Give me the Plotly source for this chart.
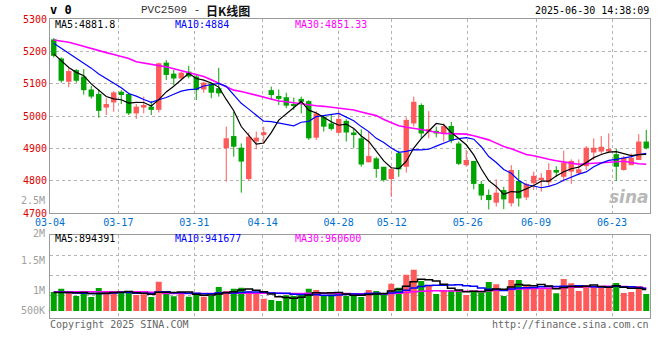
import plotly.graph_objects as go
import pandas as pd

W, H = 660, 360

# ---- daily K data (PVC2509), 2025-03-04 .. 2025-06-30, 80 trading days ----
opens = [5237, 5178, 5106, 5142, 5122, 5082, 5068, 5026, 5042, 5075,
         5068, 5008, 5026, 5029, 5019, 5165, 5131, 5116, 5137, 5122,
         5082, 5101, 5086, 4900, 4938, 4902, 4805, 4921, 4941, 5080,
         5062, 5058, 5037, 5053, 5046, 4933, 4998, 4977, 4948, 4985,
         4949, 4931, 4857, 4869, 4843, 4805, 4885, 4843, 4977, 5034,
         4952, 4954, 4944, 4969, 4915, 4848, 4861, 4790, 4756, 4732,
         4771, 4730, 4799, 4748, 4792, 4804, 4795, 4833, 4812, 4828,
         4823, 4845, 4887, 4890, 4890, 4882, 4833, 4848, 4864, 4921]
highs = [5241, 5181, 5147, 5145, 5145, 5093, 5082, 5055, 5077, 5080,
         5072, 5037, 5060, 5046, 5165, 5173, 5142, 5137, 5155, 5130,
         5106, 5103, 5149, 4967, 5013, 4915, 4949, 4952, 4967, 5091,
         5082, 5072, 5057, 5060, 5049, 5015, 5003, 5003, 5015, 4990,
         4960, 4959, 4951, 4874, 4843, 4843, 4893, 4996, 5060, 5039,
         5015, 4967, 4977, 4982, 4921, 4895, 4861, 4799, 4773, 4804,
         4781, 4848, 4833, 4794, 4828, 4823, 4854, 4845, 4893, 4866,
         4866, 4907, 4931, 4938, 4946, 4898, 4876, 4884, 4944, 4957]
lows = [5181, 5103, 5089, 5103, 5066, 5054, 4995, 5003, 5013, 5037,
        5003, 4991, 5008, 5003, 5011, 5111, 5096, 5111, 5116, 5049,
        5072, 5055, 5060, 4797, 4874, 4763, 4800, 4897, 4915, 5049,
        5034, 5024, 5019, 5008, 4926, 4926, 4952, 4955, 4946, 4921,
        4900, 4843, 4856, 4809, 4797, 4750, 4812, 4825, 4967, 4931,
        4931, 4934, 4921, 4916, 4848, 4843, 4773, 4740, 4711, 4720,
        4712, 4720, 4720, 4740, 4771, 4766, 4781, 4812, 4797, 4790,
        4817, 4833, 4864, 4883, 4885, 4799, 4831, 4848, 4864, 4897]
closes = [5186, 5109, 5139, 5109, 5080, 5060, 5016, 5037, 5073, 5065,
          5008, 5029, 5034, 5019, 5163, 5127, 5116, 5134, 5122, 5080,
          5103, 5072, 5070, 4931, 4905, 4859, 4936, 4933, 4950, 5065,
          5053, 5032, 5031, 5044, 4931, 5008, 4967, 4960, 4991, 4949,
          4941, 4850, 4876, 4836, 4802, 4836, 4835, 4988, 5044, 4946,
          4960, 4946, 4969, 4924, 4852, 4864, 4790, 4754, 4740, 4763,
          4742, 4833, 4745, 4790, 4815, 4809, 4833, 4825, 4856, 4861,
          4835, 4902, 4902, 4905, 4898, 4843, 4871, 4871, 4921, 4900]
volumes = [798000, 938000, 770000, 630000, 728000, 588000, 966000, 798000, 798000, 770000,
           770000, 672000, 700000, 588000, 1232000, 770000, 616000, 770000, 602000, 742000,
           602000, 630000, 1008000, 840000, 938000, 980000, 840000, 770000, 518000, 462000,
           420000, 658000, 630000, 700000, 938000, 882000, 630000, 700000, 742000, 630000,
           630000, 588000, 882000, 840000, 728000, 1148000, 980000, 1526000, 1736000, 1260000,
           1050000, 714000, 882000, 882000, 882000, 672000, 840000, 770000, 1218000, 1120000,
           630000, 1302000, 1302000, 1078000, 980000, 910000, 980000, 742000, 1344000, 1162000,
           840000, 1092000, 1008000, 1050000, 980000, 1176000, 756000, 798000, 1050000, 714000]

# moving-average values at the start of the window (read from the picture,
# they depend on days before 03-04)
ma5_early = [5192, 5170, 5150, 5135]
ma10_early = [5225, 5210, 5195, 5180, 5165, 5148, 5130, 5115, 5102]
ma30_early = [5235, 5232, 5228, 5222, 5215, 5208, 5202, 5196, 5190, 5185,
              5178, 5168, 5164, 5161, 5158, 5152, 5146, 5140, 5134, 5128,
              5122, 5112, 5102, 5090, 5080, 5076, 5070, 5063, 5058]
vma5_early = [780000, 780000, 775000, 770000]
vma10_early = [790000, 785000, 780000, 760000, 745000, 735000, 735000, 740000, 760000]
vma30_early = [812000] * 13 + [790000] * 2 + [740000] * 8 + [745000] * 6

tick_idx = [0, 9, 19, 28, 38, 45, 55, 64, 74]
tick_labels = ['03-04', '03-17', '03-31', '04-14', '04-28', '05-12', '05-26', '06-09', '06-23']
price_ticks = [4700, 4800, 4900, 5000, 5100, 5200, 5300]
vol_labels = ['2M', '1.5M', '1M', '500K']

title_code = 'PVC2509 -'
title_cn = '日K线图'
timestamp = '2025-06-30 14:38:09'
ma_main_text = ['MA5:4881.8', 'MA10:4884', 'MA30:4851.33']
ma_vol_text = ['MA5:894391', 'MA10:941677', 'MA30:960600']


def ma(values, n, early):
    s = pd.Series(values, dtype=float).rolling(n).mean().tolist()
    return list(early) + s[len(early):]


ma5 = ma(closes, 5, ma5_early)
ma10 = ma(closes, 10, ma10_early)
ma30 = ma(closes, 30, ma30_early)
vma5 = ma(volumes, 5, vma5_early)
vma10 = ma(volumes, 10, vma10_early)
vma30 = ma(volumes, 30, vma30_early)

RED = '#ff5a5a'
GREEN = '#00a400'
MONO = 'DejaVu Sans Mono'
GRID = '#b4b4b4'
FRAME = '#9a9a9a'

n = len(closes)
xs = list(range(n))
up = [c >= o for o, c in zip(opens, closes)]
colors = [RED if u else GREEN for u in up]
body_base = [min(o, c) for o, c in zip(opens, closes)]
body_h = [max(abs(c - o), 2.5) for o, c in zip(opens, closes)]

fig = go.Figure()

# wicks
for flag, col in ((True, RED), (False, GREEN)):
    wx, wy = [], []
    for i in xs:
        if up[i] == flag:
            wx += [i, i, None]
            wy += [lows[i], highs[i], None]
    fig.add_trace(go.Scatter(x=wx, y=wy, mode='lines', line=dict(color=col, width=1),
                             hoverinfo='skip', xaxis='x', yaxis='y'))

# bodies
fig.add_trace(go.Bar(x=xs, y=body_h, base=body_base, width=0.72,
                     marker=dict(color=colors, line=dict(width=0)),
                     xaxis='x', yaxis='y'))

# price MAs
for vals, col, w in ((ma30, '#ff00ff', 1.6), (ma10, '#0000ff', 1.2), (ma5, '#000000', 1.2)):
    fig.add_trace(go.Scatter(x=xs, y=vals, mode='lines', line=dict(color=col, width=w),
                             xaxis='x', yaxis='y'))

# volume bars
fig.add_trace(go.Bar(x=xs, y=volumes, width=0.8,
                     marker=dict(color=colors, line=dict(width=0)),
                     xaxis='x2', yaxis='y2'))
for vals, col in ((vma30, '#ff00ff'), (vma10, '#0000ff'), (vma5, '#000000')):
    fig.add_trace(go.Scatter(x=xs, y=vals, mode='lines', line=dict(color=col, width=1.5, shape='hvh'),
                             xaxis='x2', yaxis='y2'))

tickpos = [k * n / (n - 1) - 0.5 for k in tick_idx]


def py(p):
    return 1 - p / H


def px(p):
    return p / W


xdom = [px(50), px(650)]
axis_common = dict(showline=True, mirror=True, linecolor=FRAME, linewidth=1, automargin=False,
                   zeroline=False, gridcolor=GRID, griddash='dot', gridwidth=1)

fig.update_layout(
    width=W, height=H, margin=dict(l=0, r=0, t=0, b=0, pad=0, autoexpand=False),
    paper_bgcolor='white', plot_bgcolor='white', showlegend=False,
    barmode='overlay', hovermode=False,
    xaxis=dict(domain=xdom, range=[-0.5, n - 0.5], anchor='y',
               tickmode='array', tickvals=tickpos, ticktext=tick_labels,
               showgrid=True, ticks='', ticklen=0,
               tickfont=dict(family=MONO, size=10, color='#0070d0'), **axis_common),
    yaxis=dict(domain=[py(213), py(19)], range=[4700, 5300], anchor='x',
               tickmode='array', tickvals=price_ticks, showgrid=True, ticks='',
               tickfont=dict(family=MONO, size=10, color='#dd0000'), **axis_common),
    xaxis2=dict(domain=xdom, range=[-0.5, n - 0.5], anchor='y2', matches='x',
                tickmode='array', tickvals=tickpos, showticklabels=False,
                showgrid=True, ticks='', **axis_common),
    yaxis2=dict(domain=[py(318.3), py(234.7)], range=[-306600, 3204600], anchor='x2',
                tickmode='array', tickvals=[659000, 1499000, 2339000],
                showticklabels=False, showgrid=True, ticks='', **axis_common),
)

ann = []


def text(x, y, s, color='black', size=10, family=MONO, xanchor='left', bold=False, italic=False, opacity=1):
    if bold:
        s = '<b>' + s + '</b>'
    if italic:
        s = '<i>' + s + '</i>'
    ann.append(dict(x=px(x), y=py(y), xref='paper', yref='paper', text=s, showarrow=False,
                    xanchor=xanchor, yanchor='middle', opacity=opacity,
                    font=dict(family=family, size=size, color=color), borderpad=0))


text(49, 10, 'v 0', size=12, bold=True)
text(140, 10, title_code, color='#333333', size=11, family='Liberation Mono')
text(205, 10, title_cn, color='#111111', size=12, family='Noto Sans CJK SC', bold=True)
text(650, 10, timestamp, xanchor='right')

for s, x, c in zip(ma_main_text, (54, 174, 294), ('black', '#0000ff', '#ff00ff')):
    text(x, 25, s, color=c)
for s, x, c in zip(ma_vol_text, (54, 174, 294), ('black', '#0000ff', '#ff00ff')):
    text(x, 238, s, color=c)

for s, y in zip(vol_labels, (233, 260, 290, 310.3)):
    text(46, y, s, color='#a0a0a0', size=10, xanchor='right')
text(46, 200, '2.5M', color='#a0a0a0', size=10, xanchor='right')

text(49, 324, 'Copyright 2025 SINA.COM', color='#666666')
text(650, 324, 'http://finance.sina.com.cn', color='#666666', xanchor='right')
text(650, 197, 'sina', color='#b8b8b8', size=17, family='DejaVu Sans', xanchor='right', bold=True, italic=True)

fig.update_layout(annotations=ann)
fig.write_html('out.html', config={'displayModeBar': False},
               post_script="document.body.style.margin='0';")
